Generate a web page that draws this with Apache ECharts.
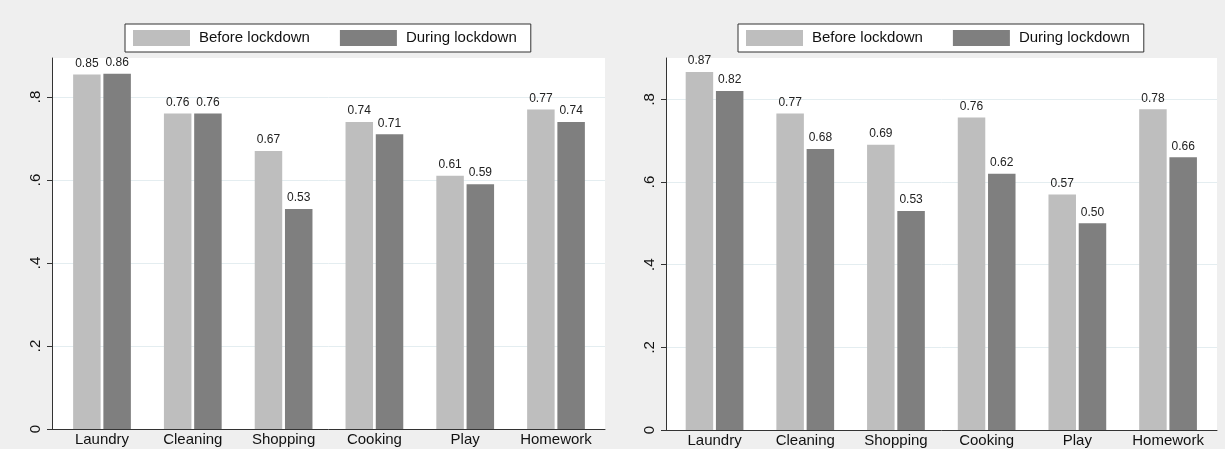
<!DOCTYPE html>
<html>
<head>
<meta charset="utf-8">
<script src="https://cdn.jsdelivr.net/npm/echarts@6/dist/echarts.min.js"></script>
<style>
  html, body { margin: 0; padding: 0; background: #efefef; }
  #chart { width: 1225px; height: 449px; }
</style>
</head>
<body>
<div id="chart"></div>
<script>
// ---- Data ----
const categories = ['Laundry', 'Cleaning', 'Shopping', 'Cooking', 'Play', 'Homework'];
const seriesNames = ['Before lockdown', 'During lockdown'];
const leftBefore  = [0.854, 0.76, 0.67, 0.74, 0.61, 0.77];
const leftDuring  = [0.856, 0.76, 0.53, 0.71, 0.59, 0.74];
const rightBefore = [0.866, 0.766, 0.69, 0.756, 0.57, 0.776];
const rightDuring = [0.82, 0.68, 0.53, 0.62, 0.50, 0.66];
const yTickValues = [0, 0.2, 0.4, 0.6, 0.8];
const yTickLabels = ['0', '.2', '.4', '.6', '.8'];

// ---- Styles ----
const FONT = '"Liberation Sans", Arial, Helvetica, sans-serif';
const LIGHT = '#bebebe';
const DARK = '#7f7f7f';
const AXIS = '#333333';
const GRIDLINE = '#e4edf0';

function yLabel(v) {
  for (let i = 0; i < yTickValues.length; i++) {
    if (Math.abs(v - yTickValues[i]) < 1e-6) return yTickLabels[i];
  }
  return '';
}

function panel(frame, bars, yMax, legendLeft, idx) {
  const fi = idx * 2, bi = idx * 2 + 1;
  return {
    grids: [
      { left: frame.left, top: frame.top, width: frame.width, height: frame.height,
        show: true, backgroundColor: '#ffffff', borderWidth: 0 },
      { left: bars.left, top: frame.top, width: bars.width, height: frame.height }
    ],
    xAxes: [
      { type: 'value', gridIndex: fi, min: 0, max: 1, position: 'bottom',
        axisLine: { show: true, lineStyle: { color: AXIS, width: 1 } },
        axisTick: { show: false }, axisLabel: { show: false }, splitLine: { show: false } },
      { type: 'category', gridIndex: bi, data: categories, boundaryGap: true,
        axisLine: { show: false }, axisTick: { show: false },
        axisLabel: { show: true, fontFamily: FONT, fontSize: 15, color: '#111', margin: 3, interval: 0 } }
    ],
    yAxes: [
      { type: 'value', gridIndex: fi, min: 0, max: yMax, interval: 0.2,
        axisLine: { show: true, lineStyle: { color: AXIS, width: 1 } },
        axisTick: { show: true, length: 5, inside: false, lineStyle: { color: AXIS },
                    customValues: yTickValues },
        axisLabel: { show: true, rotate: 90, margin: 9, fontFamily: FONT, fontSize: 15, color: '#111',
                     customValues: yTickValues, formatter: yLabel },
        splitLine: { show: true, lineStyle: { color: GRIDLINE, width: 1 } } },
      { type: 'value', gridIndex: bi, min: 0, max: yMax, show: false,
        splitLine: { show: false } }
    ],
    legend: {
      left: legendLeft, top: 24, orient: 'horizontal',
      backgroundColor: '#ffffff', borderColor: AXIS, borderWidth: 1,
      padding: [6, 14, 6, 8], itemWidth: 57, itemHeight: 16, itemGap: 30,
      icon: 'rect', data: seriesNames,
      textStyle: { fontFamily: FONT, fontSize: 15, color: '#111', padding: [0, 0, 0, 4] }
    },
    bi: bi
  };
}

const P = [
  panel({ left: 52, top: 58, width: 553, height: 371 }, { left: 56.6, width: 544.8 }, 0.894, 125, 0),
  panel({ left: 666, top: 58, width: 551, height: 372 }, { left: 669.2, width: 544.2 }, 0.90, 738, 1)
];
const dataSets = [[leftBefore, leftDuring], [rightBefore, rightDuring]];
const colors = [LIGHT, DARK];

const series = [];
P.forEach((p, pi) => {
  seriesNames.forEach((name, si) => {
    series.push({
      name: name, type: 'bar', xAxisIndex: p.bi, yAxisIndex: p.bi,
      data: dataSets[pi][si], barWidth: 27.5, barGap: '10%',
      itemStyle: { color: colors[si] },
      label: { show: true, position: 'top', distance: 5, fontFamily: FONT, fontSize: 12, color: '#222',
               formatter: (d) => d.value.toFixed(2) }
    });
  });
});

const chart = echarts.init(document.getElementById('chart'), null, { renderer: 'canvas' });
chart.setOption({
  animation: false,
  backgroundColor: '#efefef',
  color: colors,
  grid: [].concat(P[0].grids, P[1].grids),
  xAxis: [].concat(P[0].xAxes, P[1].xAxes),
  yAxis: [].concat(P[0].yAxes, P[1].yAxes),
  legend: [P[0].legend, P[1].legend],
  series: series
});
</script>
</body>
</html>
